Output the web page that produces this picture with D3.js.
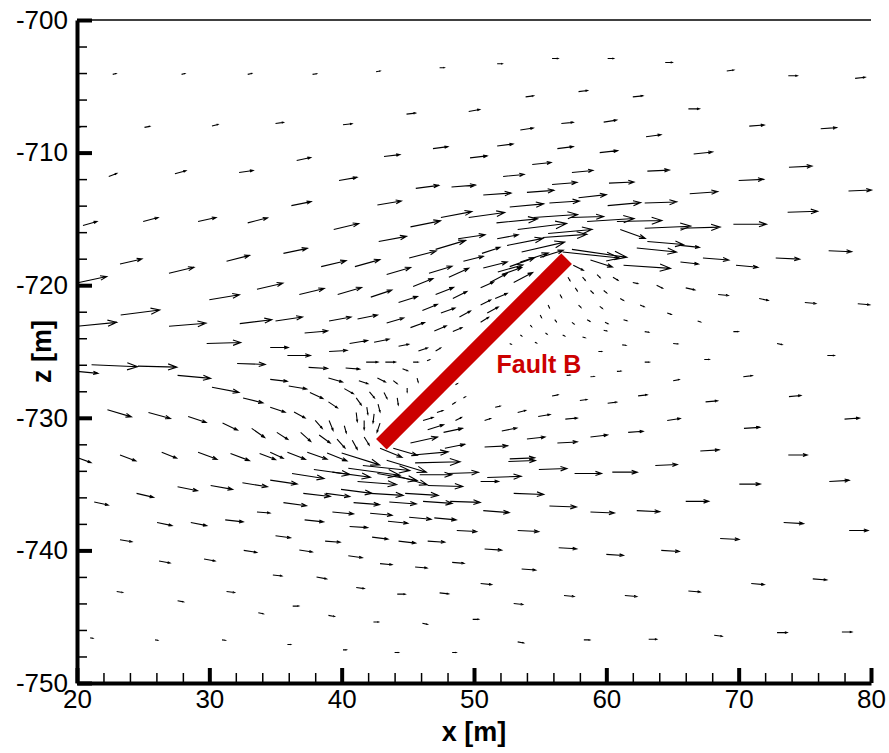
<!DOCTYPE html>
<html>
<head>
<meta charset="utf-8">
<script src="https://cdn.jsdelivr.net/npm/d3@7"></script>
<style>
  body { margin: 0; background: #fff; }
  text { font-family: "Liberation Sans", Arial, sans-serif; }
</style>
</head>
<body>
<svg id="chart" width="889" height="753"></svg>
<script>
const xTicks = [20, 30, 40, 50, 60, 70, 80];
const zTicks = [-750, -740, -730, -720, -710, -700];
const faultTrace = [[43, -732], [57, -718]];
const faultName = "Fault B";
const faultLabelAt = [51.7, -726.6];

// displacement vectors: [x, z, ux, uz] (arrow length in plot metres)
const vectors = [
  [22.7,-704.1,0.25,0.06],[27.9,-704.1,0.25,0.06],[32.9,-704.1,0.3,0.07],[20.1,-708.1,0.2,0.05],
  [25.1,-708.1,0.4,0.08],[30.2,-708.0,0.45,0.12],[22.4,-711.8,0.6,0.23],[27.4,-711.6,0.83,0.23],
  [32.25,-711.5,1.06,0.15],[20.45,-715.5,1.06,0.3],[25.0,-715.2,1.13,0.3],[29.15,-715.2,1.36,0.3],
  [32.9,-715.3,1.5,0.38],[37.8,-704.1,0.3,0.05],[42.6,-703.9,0.3,0.05],[47.4,-703.6,0.35,0.0],
  [35.0,-707.8,0.6,0.08],[40.1,-707.9,0.68,0.08],[44.9,-707.1,0.68,0.08],[49.6,-706.9,0.83,0.15],
  [36.6,-710.6,1.06,0.23],[43.2,-710.3,1.2,0.15],[46.9,-709.7,1.13,0.15],[49.7,-710.4,1.29,0.15],
  [39.8,-712.1,1.36,0.23],[45.6,-712.7,1.74,0.23],[48.3,-712.6,1.81,0.15],[36.2,-714.0,1.5,0.3],
  [42.7,-713.95,1.81,0.3],[39.4,-715.8,1.89,0.45],[45.2,-715.6,2.27,0.45],[47.5,-714.9,2.34,0.45],
  [49.6,-714.9,2.72,0.38],[42.8,-716.7,2.1,0.38],[48.8,-716.5,2.04,0.3],
  [51.75,-703.3,0.38,0],[55.9,-702.9,0.45,0],[60.1,-702.9,0.45,0],[64.45,-703.2,0.53,0],
  [53.9,-705.8,0.6,0.08],[57.9,-705.4,0.68,0.08],[62.0,-705.8,0.76,0.08],[66.2,-706.7,0.83,0],
  [53.5,-708.3,0.98,0.15],[56.6,-707.8,0.9,0.08],[59.8,-707.7,0.98,0.15],[63.0,-708.8,1.13,0.15],
  [51.75,-709.5,1.2,0.15],[56.3,-709.7,1.2,0.15],[59.5,-710.0,1.36,0.15],[54.4,-710.9,1.43,0.15],
  [57.4,-711.5,1.59,0.15],[63.1,-711.4,1.66,0.08],[52.2,-711.8,1.59,0.15],[55.9,-712.4,1.89,0.15],
  [60.2,-712.3,1.89,0.08],[50.7,-713.2,2.1,0.15],[54.0,-713.0,2.04,0.15],[52.7,-714.1,2.57,0.23],
  [55.7,-713.8,2.27,0.15],[57.9,-713.4,2.1,0.23],[60.1,-714.0,2.5,0.23],[62.9,-713.8,2.42,0.08],
  [51.7,-715.3,3.1,0.3],[54.5,-714.9,3.33,0.23],[57.3,-714.9,2.5,0.08],[58.55,-715.2,3.55,0.23],
  [60.8,-715.2,3.4,0.08],[53.3,-715.8,3.7,0.45],[55.6,-716.1,3.33,0.3],[61.05,-715.8,1.89,-0.68],
  [62.9,-715.7,3.48,0.15],[51.75,-716.5,1.59,0.3],
  [69.1,-703.85,0.53,0.08],[73.75,-704.2,0.68,0.0],[78.8,-704.4,0.76,0.08],[70.8,-708.0,1.13,0.08],
  [76.2,-708.2,1.2,0.08],[66.6,-710.1,1.43,0.15],[73.8,-711.1,1.74,0.08],[70.0,-712.1,1.89,0.08],
  [66.3,-713.1,2.12,0.15],[78.3,-712.9,1.74,0.08],[73.7,-714.5,2.27,0.08],[65.6,-715.7,3.0,0.08],
  [69.6,-715.4,2.5,0],
  [23.25,-718.4,1.66,0.38],[26.95,-719.1,1.89,0.45],[31.3,-718.2,1.74,0.45],[20.15,-719.8,2.1,0.45],
  [30.0,-721.1,2.27,0.38],[33.6,-720.3,1.96,0.45],[23.3,-722.25,2.95,0.38],[20.0,-723.1,3.0,0.3],
  [26.95,-723.1,2.8,0.23],[32.3,-722.9,2.42,0.3],[29.8,-724.4,2.57,0.08],[21.1,-726.0,3.48,-0.15],
  [24.6,-726.1,2.95,-0.08],[20.0,-726.5,1.59,-0.15],[32.1,-725.9,2.12,-0.08],[27.6,-726.8,2.5,-0.23],
  [30.2,-727.7,2.04,-0.38],[32.55,-728.5,1.5,-0.38],[22.3,-729.4,1.81,-0.53],[25.4,-729.6,1.66,-0.45],
  [28.4,-729.9,1.36,-0.45],[31.0,-730.4,1.13,-0.53],[33.2,-730.8,0.98,-0.68],[20.0,-733.0,1.06,-0.38],
  [23.25,-732.8,1.2,-0.45],[26.4,-732.6,1.13,-0.45],[29.15,-732.6,1.43,-0.53],[31.6,-732.7,1.43,-0.53],
  [33.8,-732.7,1.2,-0.45],
  [35.6,-717.6,1.81,0.38],[38.45,-718.6,1.89,0.45],[41.0,-718.6,1.89,0.53],[45.1,-717.95,2.04,0.53],
  [47.1,-717.3,2.27,0.68],[49.2,-718.2,1.5,0.38],[36.8,-720.7,1.89,0.45],[39.7,-720.7,1.81,0.53],
  [42.2,-720.9,1.59,0.53],[43.4,-719.2,1.81,0.53],[45.4,-720.1,1.5,0.6],[46.6,-719.1,1.74,0.53],
  [48.1,-719.4,1.5,0.68],[47.1,-720.7,1.36,0.53],[48.4,-721.0,1.06,0.53],[44.3,-721.3,1.43,0.45],
  [46.1,-721.9,1.13,0.45],[47.5,-722.1,1.06,0.38],[48.9,-722.4,0.83,0.45],[35.0,-722.7,2.04,0.3],
  [39.05,-722.7,1.66,0.3],[41.2,-722.55,1.5,0.3],[43.4,-722.85,1.29,0.38],[45.2,-723.2,1.06,0.38],
  [47.0,-723.45,0.9,0.38],[48.4,-723.5,0.68,0.3],[37.2,-723.6,1.74,0.15],[34.6,-724.7,1.36,0],
  [40.6,-724.4,1.36,0.23],[42.45,-724.3,1.13,0.23],[44.3,-724.6,0.76,0.15],[45.8,-724.96,0.68,0.23],
  [47.1,-724.96,0.38,0.23],[35.9,-725.3,1.74,0],[39.05,-725.0,1.36,0.08],[41.85,-725.8,0.9,0],
  [43.3,-725.8,0.76,0],[45.4,-725.8,0.38,0],[46.45,-725.7,0.2,0.08],[34.6,-727.1,1.29,-0.15],
  [37.5,-726.2,1.43,-0.08],[40.3,-726.25,1.06,-0.08],[36.0,-727.6,1.36,-0.23],[39.0,-727.0,1.06,-0.3],
  [41.3,-727.2,0.68,-0.23],[42.7,-727.0,0.6,-0.3],[43.9,-727.2,0.3,-0.23],[44.6,-726.3,0.38,-0.15],
  [45.7,-727.0,0.08,-0.3],[34.6,-729.2,1.13,-0.38],[37.6,-728.1,0.98,-0.45],[40.2,-727.8,0.68,-0.38],
  [42.1,-728.05,0.38,-0.45],[43.2,-728.1,0.23,-0.45],[44.95,-727.75,0.0,-0.3],[36.4,-729.56,0.83,-0.45],
  [39.0,-728.8,0.68,-0.45],[41.1,-728.5,0.38,-0.53],[41.9,-729.2,0.08,-0.53],[42.75,-728.96,0.15,-0.6],
  [44.2,-728.5,0.08,-0.53],[35.1,-731.1,0.83,-0.53],[36.9,-731.1,0.76,-0.68],[38.0,-730.2,0.53,-0.6],
  [39.05,-730.2,0.3,-0.75],[40.2,-730.6,0.15,-0.53],[41.1,-729.6,0.08,-0.68],[41.7,-730.2,0.0,-0.68],
  [42.45,-729.7,-0.08,-0.68],[42.9,-730.4,-0.23,-0.68],[38.3,-731.3,0.83,-0.6],[39.65,-731.6,0.6,-0.68],
  [40.8,-731.7,0.38,-0.68],[41.7,-731.45,0.38,-0.6],[34.6,-732.6,0.98,-0.45],[35.9,-732.6,1.36,-0.53],
  [37.4,-732.6,1.5,-0.53],[38.9,-732.65,1.5,-0.6],[40.0,-732.65,2.87,-0.9],[42.9,-732.3,1.66,-0.68],
  [43.9,-732.3,1.81,-0.53],[45.2,-731.9,2.04,0.45],[46.5,-730.9,1.2,0.38],[47.7,-731.1,1.43,0.3],
  [45.4,-732.8,2.65,0.23],[47.8,-732.3,1.5,0.3],[46.15,-730.2,0.76,0.23],[47.2,-729.6,0.45,0.15],
  [48.6,-730.2,0.45,0.23],[48.35,-729.0,0.23,0.15],[49.2,-728.5,0.15,0.08],[48.6,-727.5,0.15,0.08],
  [50.6,-717.6,1.36,0.45],[52.5,-717.0,2.72,0.53],[53.6,-717.5,3.25,0.75],[55.2,-716.4,3.33,0.23],
  [50.7,-718.7,1.81,0.45],[51.8,-719.0,1.89,0.53],[52.7,-718.6,1.89,0.68],[53.5,-718.25,2.12,0.68],
  [55.0,-717.9,1.74,0.53],[50.5,-720.2,0.98,0.45],[51.2,-719.8,1.29,0.68],[52.1,-719.2,1.5,0.53],
  [53.0,-719.8,1.43,0.75],[50.5,-721.5,0.76,0.38],[51.6,-721.0,0.9,0.38],[51.0,-722.1,0.83,0.45],
  [50.5,-722.8,0.6,0.38],
  [56.7,-717.5,4.3,-0.45],[57.4,-717.3,4.15,-0.6],[58.8,-718.1,1.66,-0.53],[62.3,-717.2,3.0,-0.3],
  [63.1,-716.7,2.72,-0.23],[61.3,-718.5,3.55,-0.23],[57.5,-718.5,0.76,-0.38],[59.3,-719.2,0.23,-0.23],
  [60.5,-719.4,0.38,-0.23],[62.0,-719.8,0.38,-0.08],[63.8,-720.0,0.45,-0.23],
  [57.1,-719.4,0.15,-0.25],[58.2,-719.4,0.2,-0.22],[56.5,-720.7,0.12,-0.22],[57.65,-720.2,0.15,-0.22],
  [58.8,-720.4,0.2,-0.2],[59.8,-720.4,0.22,-0.18],[61.05,-721.0,0.25,-0.15],[62.55,-721.5,0.3,-0.12],
  [64.6,-722.1,0.3,-0.1],[55.6,-721.5,0.1,-0.2],[57.9,-721.5,0.18,-0.18],[59.5,-721.6,0.2,-0.15],
  [55.0,-722.25,0.1,-0.18],[56.1,-722.6,0.12,-0.15],[57.4,-722.8,0.15,-0.12],[58.55,-722.6,0.2,-0.12],
  [59.9,-722.8,0.22,-0.1],[61.3,-722.6,0.25,-0.08],[62.9,-723.5,0.3,-0.05],[54.25,-723.0,0.1,-0.12],
  [55.4,-723.6,0.12,-0.1],[56.7,-723.75,0.15,-0.08],[58.2,-723.9,0.2,-0.06],[59.8,-723.4,0.22,-0.05],
  [61.2,-724.5,0.28,-0.03],[65.05,-724.4,0.35,-0.03],[53.5,-723.75,0.1,-0.08],[54.6,-724.3,0.12,-0.06],
  [52.7,-724.4,0.1,-0.05],[59.4,-725.0,0.25,0],[62.9,-725.8,0.35,0],[60.8,-726.5,0.3,0.02],
  [58.8,-726.9,0.28,0.02],[57.0,-726.8,0.25,0.02],
  [50.8,-732.2,1.74,0.08],[52.7,-733.1,1.89,0.08],[54.0,-731.6,1.36,0.15],[56.3,-731.9,1.5,0.08],
  [58.8,-731.45,1.29,0.15],[61.65,-731.1,1.13,0.08],[64.6,-730.2,0.98,0.15],[52.1,-731.0,1.13,0.23],
  [54.85,-729.9,0.9,0.15],[56.9,-730.1,0.9,0.08],[53.3,-729.6,0.6,0.15],[51.6,-729.2,0.38,0.08],
  [58.0,-728.7,0.53,0.08],[60.1,-728.9,0.68,0.08],[62.4,-728.35,0.68,0.08],[65.05,-727.2,0.45,0.08],
  [55.9,-728.35,0.45,0.08],[50.8,-730.2,0.45,0.15],
  [65.6,-717.0,1.43,-0.15],[67.3,-717.95,1.96,-0.15],[65.6,-718.25,1.36,-0.15],[69.8,-718.5,1.66,-0.15],
  [72.8,-717.95,1.81,-0.08],[76.8,-717.4,1.74,-0.08],[66.0,-720.2,0.68,-0.15],[68.45,-720.7,0.76,-0.08],
  [71.55,-721.0,0.68,-0.15],[75.0,-721.3,0.83,-0.08],[79.0,-721.4,0.9,-0.08],[66.9,-722.7,0.23,-0.08],
  [69.6,-723.5,0.38,0],[72.9,-724.4,0.38,-0.08],[76.7,-725.3,0.53,0],[67.4,-725.6,0.38,0],
  [70.35,-726.9,0.68,0.08],[67.5,-728.8,0.9,0.08],[73.8,-728.4,0.9,0.08],[70.4,-730.8,1.2,0.08],
  [78.0,-730.1,1.13,0.08],[67.1,-732.5,1.43,0.08],[73.75,-732.8,1.43,0],
  [21.3,-736.35,1.06,-0.23],[24.5,-735.7,1.29,-0.3],[27.6,-735.2,1.5,-0.3],[30.1,-735.1,1.66,-0.3],
  [32.5,-734.9,1.89,-0.3],[33.6,-737.1,0.98,-0.08],[26.05,-737.9,1.13,-0.23],[28.6,-737.9,1.2,-0.23],
  [31.2,-737.7,1.36,-0.15],[23.25,-739.2,0.9,-0.15],[26.2,-740.8,0.83,-0.15],[29.6,-740.65,0.83,-0.15],
  [32.6,-740.0,0.98,-0.15],[23.0,-743.1,0.45,-0.08],[27.6,-743.8,0.45,-0.08],[31.3,-743.1,0.6,-0.08],
  [33.7,-744.7,0.38,-0.08],[21.0,-746.6,0.2,-0.03],[25.9,-746.75,0.2,-0.03],[30.96,-746.75,0.25,-0.03],
  [34.6,-734.7,2.04,-0.3],[36.25,-734.2,2.42,-0.38],[37.9,-733.9,2.72,-0.38],[39.3,-734.1,2.87,-0.38],
  [40.5,-733.8,3.9,-0.53],[41.2,-734.8,2.95,-0.23],[41.6,-733.6,3.55,-0.38],[43.4,-733.2,3.0,-0.9],
  [42.7,-734.2,3.0,-0.53],[43.9,-734.3,2.57,-0.75],[45.55,-733.4,3.4,0.08],[45.9,-734.3,2.42,0],
  [48.0,-734.2,2.34,0.08],[46.5,-735.1,2.65,-0.08],[37.1,-735.7,2.04,-0.23],[38.8,-735.7,1.81,-0.23],
  [39.95,-735.4,2.34,-0.3],[42.15,-735.7,2.5,-0.15],[44.8,-735.7,2.5,-0.15],[35.6,-736.4,1.74,-0.23],
  [40.9,-736.4,1.96,-0.15],[43.6,-736.35,2.04,-0.15],[46.15,-736.3,2.2,-0.15],[48.2,-736.3,2.27,-0.08],
  [39.3,-737.1,1.59,-0.15],[42.15,-737.2,1.66,-0.15],[37.2,-737.7,1.43,-0.15],[43.5,-737.8,1.5,-0.15],
  [45.1,-737.5,1.66,-0.15],[47.0,-737.55,1.66,-0.15],[40.6,-738.2,1.36,-0.08],[48.7,-738.5,1.5,-0.08],
  [35.0,-738.9,1.13,-0.15],[38.75,-739.3,1.13,-0.08],[42.3,-739.0,1.2,-0.15],[44.3,-739.3,1.29,-0.15],
  [46.5,-739.3,1.29,-0.08],[36.8,-739.97,0.98,-0.15],[40.5,-740.4,1.06,-0.15],[42.9,-741.0,0.9,-0.08],
  [45.55,-741.25,0.9,-0.08],[48.35,-740.9,0.9,-0.08],[34.8,-741.85,0.68,-0.08],[38.1,-742.0,0.76,-0.15],
  [41.1,-742.8,0.6,-0.08],[44.2,-743.3,0.6,0],[47.4,-743.2,0.68,-0.08],[36.3,-744.2,0.45,0],
  [39.0,-744.9,0.45,-0.08],[42.4,-745.4,0.38,0],[46.1,-745.5,0.38,-0.08],[49.9,-745.2,0.45,0],
  [35.9,-747.1,0.25,0],[40.1,-747.5,0.25,0],[44.0,-747.7,0.3,0],[48.35,-747.7,0.3,0],
  [52.6,-733.3,2.04,0.08],[54.9,-733.9,2.12,0.08],[57.6,-734.2,2.04,0],[60.45,-734.1,1.89,0],
  [63.7,-733.6,1.66,0.08],[51.0,-734.5,2.57,0.08],[50.5,-734.8,1.36,0],[53.0,-735.7,2.27,-0.08],
  [55.7,-736.65,2.04,-0.08],[50.7,-737.0,1.96,-0.15],[58.8,-737.1,1.81,-0.08],[62.3,-737.0,1.74,-0.08],
  [53.3,-738.5,1.59,-0.08],[50.8,-739.9,1.29,-0.08],[56.4,-739.8,1.36,-0.08],[60.0,-740.3,1.29,-0.08],
  [64.15,-740.0,1.36,-0.08],[53.6,-741.4,1.06,-0.08],[50.5,-742.5,0.83,-0.08],[56.8,-743.4,0.76,-0.08],
  [61.4,-743.4,0.9,-0.08],[53.0,-744.0,0.68,-0.08],[53.3,-746.9,0.45,-0.08],[58.3,-746.75,0.45,0],
  [63.2,-746.7,0.6,0],
  [76.85,-734.8,1.5,0.08],[70.05,-735.0,1.59,0],[66.0,-736.3,1.74,0],[73.4,-737.9,1.5,-0.08],
  [78.35,-738.5,1.43,0],[68.6,-739.1,1.43,-0.08],[70.95,-742.5,0.98,-0.08],[75.6,-742.15,1.06,-0.08],
  [66.2,-743.06,0.9,-0.08],[68.15,-746.4,0.6,-0.08],[72.9,-746.2,0.76,0],[77.8,-746.15,0.76,0]
];

const svg = d3.select("#chart");
const margin = { left: 77, right: 871, top: 20, bottom: 683 };

const x = d3.scaleLinear().domain([20, 80]).range([margin.left, margin.right]);
const y = d3.scaleLinear().domain([-750, -700]).range([margin.bottom, margin.top]);

const xMinor = d3.range(20, 81, 2).filter(v => v % 10 !== 0);
const zMinor = d3.range(-750, -699, 2).filter(v => v % 10 !== 0);

// vectors
const vecs = svg.append("g")
    .attr("fill", "none")
    .attr("stroke", "#000")
    .attr("stroke-width", 1.1);

vecs.selectAll("path")
    .data(vectors)
    .join("path")
    .attr("d", d => {
        const x0 = x(d[0]), y0 = y(d[1]);
        const x1 = x(d[0] + d[2]), y1 = y(d[1] + d[3]);
        const a = Math.atan2(y1 - y0, x1 - x0);
        const len = Math.hypot(x1 - x0, y1 - y0);
        const h = len * 0.24, t = 0.33;
        return `M${x0},${y0}L${x1},${y1}` +
            `M${x1 - h * Math.cos(a - t)},${y1 - h * Math.sin(a - t)}L${x1},${y1}` +
            `L${x1 - h * Math.cos(a + t)},${y1 - h * Math.sin(a + t)}`;
    });

// fault
svg.append("line")
    .attr("x1", x(faultTrace[0][0])).attr("y1", y(faultTrace[0][1]))
    .attr("x2", x(faultTrace[1][0])).attr("y2", y(faultTrace[1][1]))
    .attr("stroke", "#cc0000")
    .attr("stroke-width", 15);

svg.append("text")
    .attr("x", x(faultLabelAt[0]))
    .attr("y", y(faultLabelAt[1]))
    .attr("fill", "#cc0000")
    .attr("font-size", 25)
    .attr("font-weight", "bold")
    .text(faultName);

// top frame line
svg.append("line")
    .attr("x1", margin.left).attr("x2", margin.right)
    .attr("y1", margin.top).attr("y2", margin.top)
    .attr("stroke", "#000").attr("stroke-width", 1.5);

// minor ticks
svg.append("g")
    .attr("transform", `translate(0,${margin.bottom})`)
    .call(d3.axisBottom(x).tickValues(xMinor).tickSize(-10).tickFormat(""))
    .call(g => g.select(".domain").remove())
    .call(g => g.selectAll("line").attr("stroke-width", 1.5));

svg.append("g")
    .attr("transform", `translate(${margin.left},0)`)
    .call(d3.axisLeft(y).tickValues(zMinor).tickSize(-10).tickFormat(""))
    .call(g => g.select(".domain").remove())
    .call(g => g.selectAll("line").attr("stroke-width", 1.5));

// major axes
const xAxis = svg.append("g")
    .attr("transform", `translate(0,${margin.bottom})`)
    .call(d3.axisBottom(x).tickValues(xTicks).tickSize(-15).tickSizeOuter(0)
        .tickPadding(7).tickFormat(d => String(d)));

const yAxis = svg.append("g")
    .attr("transform", `translate(${margin.left},0)`)
    .call(d3.axisLeft(y).tickValues(zTicks).tickSize(-15).tickSizeOuter(0)
        .tickPadding(9).tickFormat(d => String(d)));

[xAxis, yAxis].forEach(ax => {
    ax.select(".domain").attr("stroke-width", 4);
    ax.selectAll(".tick line").attr("stroke-width", 4);
    ax.selectAll(".tick text")
        .attr("font-size", 26)
        .attr("font-family", "'Liberation Sans', Arial, sans-serif")
        .attr("fill", "#000");
});

// axis titles
svg.append("text")
    .attr("x", (margin.left + margin.right) / 2)
    .attr("y", 741)
    .attr("text-anchor", "middle")
    .attr("font-size", 27)
    .attr("font-weight", "bold")
    .text("x [m]");

svg.append("text")
    .attr("transform", `translate(51,${(margin.top + margin.bottom) / 2}) rotate(-90)`)
    .attr("text-anchor", "middle")
    .attr("font-size", 27)
    .attr("font-weight", "bold")
    .text("z [m]");
</script>
</body>
</html>
